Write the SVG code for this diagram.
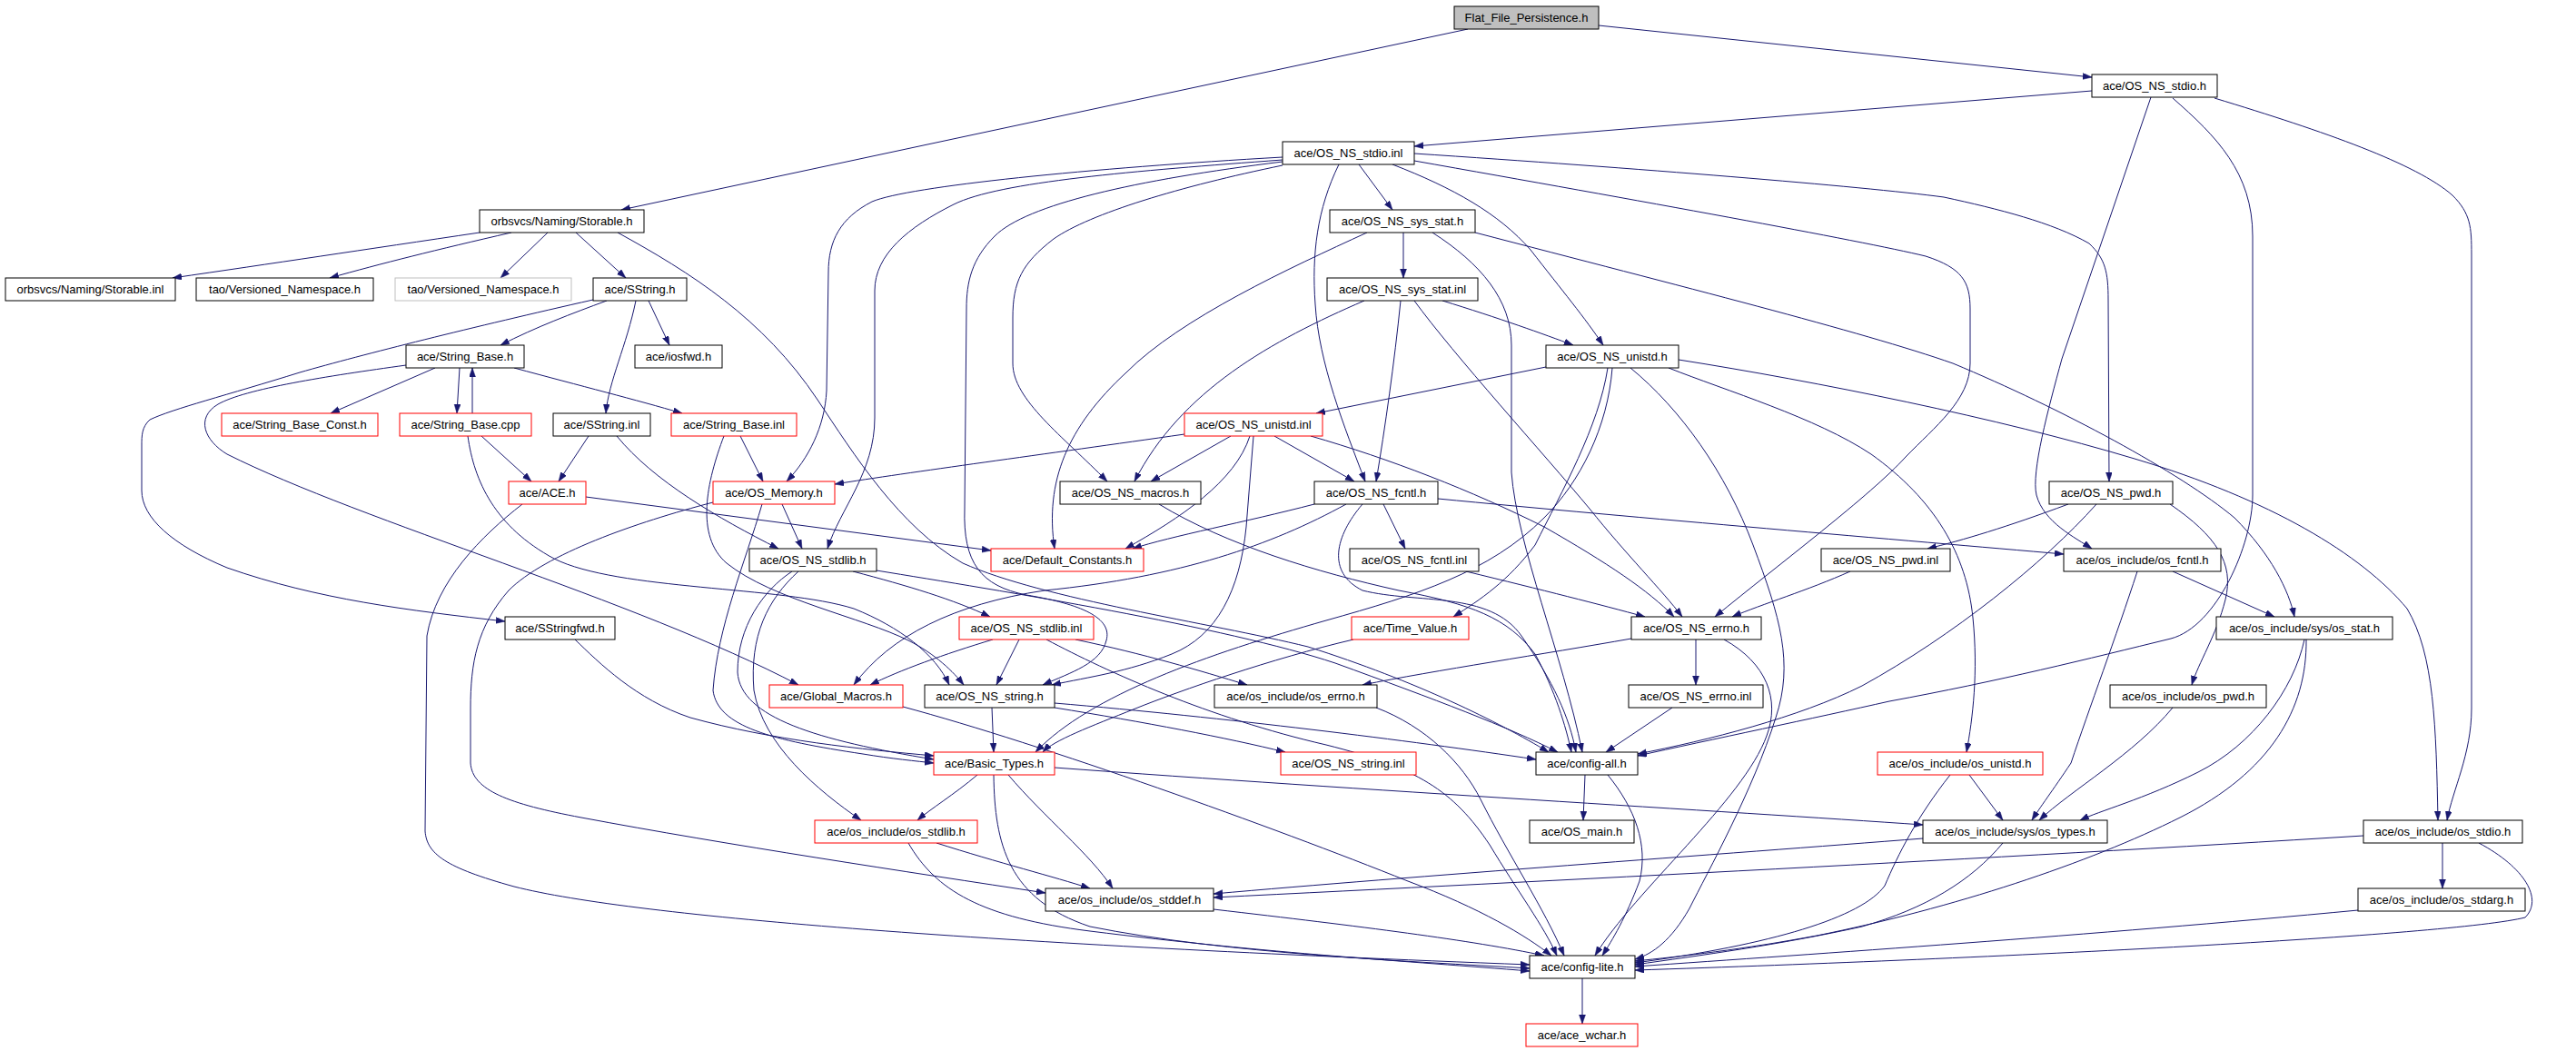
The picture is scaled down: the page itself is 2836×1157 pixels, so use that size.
<svg xmlns="http://www.w3.org/2000/svg" width="2836" height="1157" viewBox="0 0 2836 1157">
<style>
.n rect{fill:#fff;stroke:#000;stroke-width:1}
.n.r rect{stroke:#f00}
.n.g rect{stroke:#bfbfbf}
.n.root rect{fill:#bfbfbf}
.n text{font-family:"Liberation Sans",Arial,sans-serif;font-size:13px;text-anchor:middle;fill:#000}
.e path{fill:none;stroke:#191970;stroke-width:1;marker-end:url(#a)}
</style>
<defs>
<marker id="a" markerUnits="userSpaceOnUse" markerWidth="11" markerHeight="8" refX="10" refY="3.5" orient="auto">
<path d="M0,0 L10,3.5 L0,7 z" fill="#191970" stroke="#191970" stroke-width="0.5"/>
</marker>
</defs>
<rect width="2836" height="1157" fill="#fff"/>
<g id="edges" class="e">
<path d="M1616,32 L684,231"/>
<path d="M1760,28 L2303,85"/>
<path d="M2303,100 L1557,161"/>
<path d="M2368,107 L2270,395 C2255,450 2236,520 2242,545 C2250,575 2285,592 2303,604"/>
<path d="M2392,108 C2440,150 2480,190 2480,260 L2480,545 C2480,600 2440,690 2390,703 C2300,725 2200,750 2080,772 C2000,790 1880,815 1803,832"/>
<path d="M2438,108 C2560,145 2660,180 2700,215 C2720,235 2721,250 2721,280 L2721,780 C2721,830 2700,870 2694,903"/>
<path d="M1496,181 L1533,231"/>
<path d="M1533,181 C1600,207 1650,235 1685,275 C1720,320 1745,350 1765,380"/>
<path d="M1474,181 C1450,230 1444,280 1448,335 C1452,400 1480,470 1503,530"/>
<path d="M1557,169 C1800,185 2050,205 2140,217 C2200,230 2260,245 2300,268 C2318,285 2321,300 2321,330 L2322,530"/>
<path d="M1557,177 C1800,220 2050,265 2120,282 C2160,295 2169,310 2169,340 L2169,400 C2169,440 2130,470 2098,503 C2060,545 1960,620 1888,679"/>
<path d="M1412,182 C1300,205 1200,235 1160,263 C1125,290 1115,310 1115,350 L1115,400 C1115,440 1170,480 1219,530"/>
<path d="M1412,178 C1250,198 1130,225 1095,260 C1070,285 1064,310 1064,340 L1062,560 C1060,620 1080,645 1130,655 C1190,665 1225,680 1218,705 C1212,730 1180,740 1148,754"/>
<path d="M1412,176 C1250,188 1100,200 1050,225 C1000,250 963,280 963,320 L963,460 C963,520 925,560 911,604"/>
<path d="M1412,173 C1200,185 1000,205 960,222 C925,240 912,265 912,300 L910,430 C908,470 890,505 866,530"/>
<path d="M528,256 C400,275 300,290 190,306"/>
<path d="M563,256 C480,275 420,290 363,306"/>
<path d="M603,256 L551,306"/>
<path d="M634,256 L689,306"/>
<path d="M680,256 C760,300 840,350 900,440 C940,500 990,580 1060,620 C1150,660 1330,685 1440,712 C1560,750 1650,795 1705,828"/>
<path d="M668,331 C630,345 590,360 551,380"/>
<path d="M700,331 C690,380 670,420 667,455"/>
<path d="M714,331 L737,380"/>
<path d="M653,330 C520,360 400,390 330,410 C250,435 190,450 165,462 C156,470 156,480 156,490 L156,540 C156,570 190,600 250,625 C350,660 450,672 556,684"/>
<path d="M479,405 L364,455"/>
<path d="M506,405 L503,455"/>
<path d="M520,455 L520,405"/>
<path d="M566,405 C640,425 700,440 751,455"/>
<path d="M447,402 C360,414 270,428 240,445 C215,460 225,485 250,500 C400,575 700,660 879,754"/>
<path d="M530,480 L585,530"/>
<path d="M515,480 C522,530 545,580 610,615 C680,650 860,645 940,670 C990,690 1030,720 1045,754"/>
<path d="M797,480 C778,530 765,590 800,620 C850,660 950,680 1000,705 C1030,720 1050,740 1061,754"/>
<path d="M815,480 L840,530"/>
<path d="M648,480 L615,530"/>
<path d="M679,480 C720,530 790,570 857,604"/>
<path d="M645,547 L1091,606"/>
<path d="M575,555 C530,590 480,640 470,700 L468,915 C470,940 490,955 566,976 C700,1010 1100,1040 1684,1062"/>
<path d="M861,555 L883,604"/>
<path d="M785,553 C700,575 600,610 560,650 C525,690 518,730 518,780 L518,840 C520,870 560,885 640,900 C800,930 1000,960 1151,983"/>
<path d="M839,555 C820,620 790,690 785,760 C790,800 850,815 950,830 C980,835 1010,838 1028,840"/>
<path d="M872,629 C840,650 812,690 812,740 C815,790 900,815 1028,836"/>
<path d="M879,629 C845,660 825,700 830,760 C840,820 900,870 948,903"/>
<path d="M939,629 C1000,645 1050,660 1090,679"/>
<path d="M965,628 C1100,650 1350,690 1470,730 C1580,770 1660,800 1715,828"/>
<path d="M633,704 C660,730 700,770 760,790 C850,815 950,825 1028,832"/>
<path d="M1702,404 L1449,455"/>
<path d="M1770,405 C1760,470 1720,540 1690,600 C1660,640 1630,660 1600,679"/>
<path d="M1775,405 C1770,470 1740,530 1700,570 C1640,630 1560,655 1460,683 C1330,720 1200,765 1140,828"/>
<path d="M1795,405 C1850,450 1900,520 1930,600 C1960,680 1975,730 1955,790 C1930,870 1880,960 1860,1000 C1840,1035 1820,1050 1800,1056"/>
<path d="M1837,405 C1900,430 2000,460 2060,500 C2130,550 2165,610 2172,680 C2178,740 2172,790 2165,828"/>
<path d="M1848,396 C2000,420 2200,460 2350,505 C2500,550 2600,610 2650,670 C2680,720 2682,800 2684,903"/>
<path d="M1304,478 C1150,500 1000,520 919,533"/>
<path d="M1355,480 L1267,530"/>
<path d="M1376,480 C1360,530 1300,570 1239,604"/>
<path d="M1380,480 L1372,580 C1365,650 1340,700 1290,720 C1240,740 1200,745 1158,754"/>
<path d="M1403,480 L1491,530"/>
<path d="M1443,480 C1530,505 1620,540 1700,580 C1770,620 1815,650 1843,679"/>
<path d="M1545,256 L1545,306"/>
<path d="M1505,256 C1420,295 1300,350 1240,410 C1175,470 1150,530 1161,604"/>
<path d="M1577,256 C1630,290 1664,330 1664,380 L1664,520 C1670,600 1720,720 1742,828"/>
<path d="M1624,256 C1850,315 2050,365 2150,400 C2270,450 2400,520 2460,570 C2500,610 2520,650 2526,679"/>
<path d="M1502,331 C1400,375 1300,430 1249,530"/>
<path d="M1542,331 C1535,400 1525,470 1515,530"/>
<path d="M1557,331 C1600,390 1700,500 1750,560 C1790,610 1830,650 1852,679"/>
<path d="M1588,331 C1650,350 1700,368 1732,380"/>
<path d="M1523,555 L1547,604"/>
<path d="M1447,555 C1370,575 1290,590 1247,604"/>
<path d="M1482,555 C1400,600 1300,635 1150,650 C1050,665 980,700 940,754"/>
<path d="M1500,555 C1470,590 1460,630 1500,650 C1560,665 1640,650 1675,700 C1710,750 1728,790 1735,828"/>
<path d="M1583,549 C1800,570 2100,595 2272,610"/>
<path d="M1276,555 C1350,600 1450,630 1540,650 C1620,665 1660,680 1690,720 C1712,760 1724,800 1730,828"/>
<path d="M1614,629 C1700,650 1760,665 1811,679"/>
<path d="M2277,555 C2210,580 2160,595 2122,604"/>
<path d="M2389,555 C2440,590 2460,620 2450,660 C2440,700 2420,730 2413,754"/>
<path d="M2308,555 C2250,620 2150,700 2050,755 C1980,790 1880,815 1803,830"/>
<path d="M2037,629 C1990,650 1940,665 1907,679"/>
<path d="M2392,629 L2504,679"/>
<path d="M2353,629 C2330,700 2300,780 2280,840 C2260,870 2245,890 2237,903"/>
<path d="M2537,704 C2525,760 2480,820 2420,850 C2360,880 2310,893 2290,903"/>
<path d="M2539,704 C2540,780 2500,850 2400,900 C2300,950 2150,1000 2000,1030 C1920,1045 1850,1053 1800,1058"/>
<path d="M2392,779 C2350,830 2280,870 2245,903"/>
<path d="M2168,853 L2205,903"/>
<path d="M2147,853 C2110,900 2090,940 2075,975 C2050,1010 1950,1040 1800,1060"/>
<path d="M2205,928 C2170,970 2120,1000 2050,1020 C1960,1040 1870,1052 1800,1062"/>
<path d="M2117,923 C1900,940 1550,965 1336,984"/>
<path d="M2689,928 L2689,978"/>
<path d="M2602,920 C2200,945 1700,970 1336,988"/>
<path d="M2729,928 C2780,955 2800,990 2780,1010 C2700,1030 2200,1055 1800,1068"/>
<path d="M2596,1002 C2300,1030 2000,1050 1800,1064"/>
<path d="M1745,853 L1743,903"/>
<path d="M1770,853 C1800,890 1815,930 1805,970 C1790,1010 1775,1035 1764,1052"/>
<path d="M1742,1077 L1742,1127"/>
<path d="M1867,704 L1867,754"/>
<path d="M1796,703 C1700,720 1580,738 1500,754"/>
<path d="M1898,704 C1945,730 1960,770 1945,810 C1920,880 1800,980 1756,1052"/>
<path d="M1841,779 L1768,828"/>
<path d="M1515,779 C1570,800 1610,840 1630,880 C1660,940 1700,1000 1722,1052"/>
<path d="M1093,704 C1040,720 990,738 958,754"/>
<path d="M1122,704 L1097,754"/>
<path d="M1184,704 C1260,720 1320,738 1373,754"/>
<path d="M1152,704 C1220,740 1330,790 1460,820 C1560,845 1600,870 1640,930 C1670,980 1700,1020 1714,1052"/>
<path d="M994,778 C1150,820 1400,910 1550,970 C1630,1000 1680,1030 1708,1052"/>
<path d="M1092,779 L1094,828"/>
<path d="M1161,779 C1260,795 1350,812 1415,828"/>
<path d="M1161,774 C1350,790 1550,815 1691,836"/>
<path d="M1490,704 C1400,725 1300,760 1250,780 C1200,800 1160,815 1148,828"/>
<path d="M1076,853 C1050,875 1025,890 1010,903"/>
<path d="M1110,853 C1150,900 1200,940 1225,978"/>
<path d="M1094,853 C1095,930 1110,990 1200,1020 C1350,1050 1550,1058 1684,1066"/>
<path d="M1161,845 C1500,870 1900,893 2117,908"/>
<path d="M1031,928 C1100,950 1160,965 1200,978"/>
<path d="M1000,928 C1030,980 1080,1010 1200,1025 C1400,1050 1550,1058 1684,1069"/>
<path d="M1336,1001 C1500,1020 1620,1035 1700,1052"/>
</g>
<g id="n0" class="n root"><rect x="1601" y="7" width="159" height="25"/><text x="1680.5" y="24">Flat_File_Persistence.h</text></g>
<g id="n1" class="n"><rect x="2303" y="82" width="138" height="25"/><text x="2372" y="99">ace/OS_NS_stdio.h</text></g>
<g id="n2" class="n"><rect x="1412" y="156" width="145" height="25"/><text x="1484.5" y="173">ace/OS_NS_stdio.inl</text></g>
<g id="n3" class="n"><rect x="528" y="231" width="181" height="25"/><text x="618.5" y="248">orbsvcs/Naming/Storable.h</text></g>
<g id="n4" class="n"><rect x="1464" y="231" width="160" height="25"/><text x="1544" y="248">ace/OS_NS_sys_stat.h</text></g>
<g id="n5" class="n"><rect x="6" y="306" width="187" height="25"/><text x="99.5" y="323">orbsvcs/Naming/Storable.inl</text></g>
<g id="n6" class="n"><rect x="216" y="306" width="195" height="25"/><text x="313.5" y="323">tao/Versioned_Namespace.h</text></g>
<g id="n7" class="n g"><rect x="435" y="306" width="194" height="25"/><text x="532" y="323">tao/Versioned_Namespace.h</text></g>
<g id="n8" class="n"><rect x="653" y="306" width="103" height="25"/><text x="704.5" y="323">ace/SString.h</text></g>
<g id="n9" class="n"><rect x="1461" y="306" width="166" height="25"/><text x="1544" y="323">ace/OS_NS_sys_stat.inl</text></g>
<g id="n10" class="n"><rect x="447" y="380" width="130" height="25"/><text x="512" y="397">ace/String_Base.h</text></g>
<g id="n11" class="n"><rect x="699" y="380" width="96" height="25"/><text x="747" y="397">ace/iosfwd.h</text></g>
<g id="n12" class="n"><rect x="1702" y="380" width="146" height="25"/><text x="1775" y="397">ace/OS_NS_unistd.h</text></g>
<g id="n13" class="n r"><rect x="244" y="455" width="172" height="25"/><text x="330" y="472">ace/String_Base_Const.h</text></g>
<g id="n14" class="n r"><rect x="440" y="455" width="145" height="25"/><text x="512.5" y="472">ace/String_Base.cpp</text></g>
<g id="n15" class="n"><rect x="609" y="455" width="107" height="25"/><text x="662.5" y="472">ace/SString.inl</text></g>
<g id="n16" class="n r"><rect x="739" y="455" width="138" height="25"/><text x="808" y="472">ace/String_Base.inl</text></g>
<g id="n17" class="n r"><rect x="1304" y="455" width="152" height="25"/><text x="1380" y="472">ace/OS_NS_unistd.inl</text></g>
<g id="n18" class="n r"><rect x="560" y="530" width="85" height="25"/><text x="602.5" y="547">ace/ACE.h</text></g>
<g id="n19" class="n r"><rect x="785" y="530" width="134" height="25"/><text x="852" y="547">ace/OS_Memory.h</text></g>
<g id="n20" class="n"><rect x="1167" y="530" width="155" height="25"/><text x="1244.5" y="547">ace/OS_NS_macros.h</text></g>
<g id="n21" class="n"><rect x="1447" y="530" width="136" height="25"/><text x="1515" y="547">ace/OS_NS_fcntl.h</text></g>
<g id="n22" class="n"><rect x="2256" y="530" width="136" height="25"/><text x="2324" y="547">ace/OS_NS_pwd.h</text></g>
<g id="n23" class="n"><rect x="825" y="604" width="140" height="25"/><text x="895" y="621">ace/OS_NS_stdlib.h</text></g>
<g id="n24" class="n r"><rect x="1091" y="604" width="168" height="25"/><text x="1175" y="621">ace/Default_Constants.h</text></g>
<g id="n25" class="n"><rect x="1486" y="604" width="142" height="25"/><text x="1557" y="621">ace/OS_NS_fcntl.inl</text></g>
<g id="n26" class="n"><rect x="2005" y="604" width="142" height="25"/><text x="2076" y="621">ace/OS_NS_pwd.inl</text></g>
<g id="n27" class="n"><rect x="2272" y="604" width="173" height="25"/><text x="2358.5" y="621">ace/os_include/os_fcntl.h</text></g>
<g id="n28" class="n"><rect x="556" y="679" width="121" height="25"/><text x="616.5" y="696">ace/SStringfwd.h</text></g>
<g id="n29" class="n r"><rect x="1056" y="679" width="148" height="25"/><text x="1130" y="696">ace/OS_NS_stdlib.inl</text></g>
<g id="n30" class="n r"><rect x="1488" y="679" width="129" height="25"/><text x="1552.5" y="696">ace/Time_Value.h</text></g>
<g id="n31" class="n"><rect x="1796" y="679" width="143" height="25"/><text x="1867.5" y="696">ace/OS_NS_errno.h</text></g>
<g id="n32" class="n"><rect x="2440" y="679" width="194" height="25"/><text x="2537" y="696">ace/os_include/sys/os_stat.h</text></g>
<g id="n33" class="n r"><rect x="847" y="754" width="147" height="25"/><text x="920.5" y="771">ace/Global_Macros.h</text></g>
<g id="n34" class="n"><rect x="1018" y="754" width="143" height="25"/><text x="1089.5" y="771">ace/OS_NS_string.h</text></g>
<g id="n35" class="n"><rect x="1337" y="754" width="179" height="25"/><text x="1426.5" y="771">ace/os_include/os_errno.h</text></g>
<g id="n36" class="n"><rect x="1793" y="754" width="148" height="25"/><text x="1867" y="771">ace/OS_NS_errno.inl</text></g>
<g id="n37" class="n"><rect x="2323" y="754" width="172" height="25"/><text x="2409" y="771">ace/os_include/os_pwd.h</text></g>
<g id="n38" class="n r"><rect x="1028" y="828" width="133" height="25"/><text x="1094.5" y="845">ace/Basic_Types.h</text></g>
<g id="n39" class="n r"><rect x="1410" y="828" width="149" height="25"/><text x="1484.5" y="845">ace/OS_NS_string.inl</text></g>
<g id="n40" class="n"><rect x="1691" y="828" width="112" height="25"/><text x="1747" y="845">ace/config-all.h</text></g>
<g id="n41" class="n r"><rect x="2067" y="828" width="182" height="25"/><text x="2158" y="845">ace/os_include/os_unistd.h</text></g>
<g id="n42" class="n r"><rect x="897" y="903" width="179" height="25"/><text x="986.5" y="920">ace/os_include/os_stdlib.h</text></g>
<g id="n43" class="n"><rect x="1684" y="903" width="115" height="25"/><text x="1741.5" y="920">ace/OS_main.h</text></g>
<g id="n44" class="n"><rect x="2117" y="903" width="203" height="25"/><text x="2218.5" y="920">ace/os_include/sys/os_types.h</text></g>
<g id="n45" class="n"><rect x="2602" y="903" width="175" height="25"/><text x="2689.5" y="920">ace/os_include/os_stdio.h</text></g>
<g id="n46" class="n"><rect x="1151" y="978" width="185" height="25"/><text x="1243.5" y="995">ace/os_include/os_stddef.h</text></g>
<g id="n47" class="n"><rect x="2596" y="978" width="184" height="25"/><text x="2688" y="995">ace/os_include/os_stdarg.h</text></g>
<g id="n48" class="n"><rect x="1684" y="1052" width="116" height="25"/><text x="1742" y="1069">ace/config-lite.h</text></g>
<g id="n49" class="n r"><rect x="1680" y="1127" width="123" height="25"/><text x="1741.5" y="1144">ace/ace_wchar.h</text></g>
</svg>
